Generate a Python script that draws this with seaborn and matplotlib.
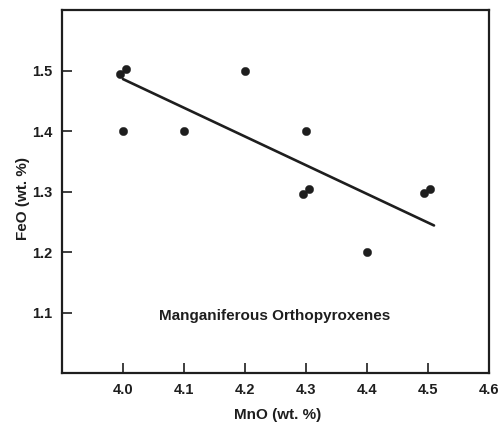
import numpy as np
import pandas as pd
import matplotlib
matplotlib.use("Agg")
import matplotlib.pyplot as plt
import seaborn as sns

# Données
mno = [3.995, 4.005, 4.0, 4.1, 4.2, 4.3, 4.295, 4.305, 4.4, 4.493, 4.503]
feo = [1.495, 1.503, 1.4, 1.4, 1.5, 1.4, 1.296, 1.305, 1.2, 1.297, 1.305]

# droite de tendance (extrémités)
fit_mno = [4.0, 4.51]
fit_feo = [1.486, 1.244]

x_ticks = [4.0, 4.1, 4.2, 4.3, 4.4, 4.5, 4.6]
y_ticks = [1.1, 1.2, 1.3, 1.4, 1.5]

df = pd.DataFrame({"MnO": mno, "FeO": feo})
df_fit = pd.DataFrame({"MnO": fit_mno, "FeO": fit_feo})

sns.set_style("white")
plt.rcParams['font.family'] = ['Liberation Sans', 'DejaVu Sans']

ink = "#1e1e1e"

fig = plt.figure(figsize=(5.04, 4.22), dpi=100)
ax = fig.add_axes([0.123, 0.116, 0.847, 0.86])

sns.lineplot(data=df_fit, x="MnO", y="FeO", color=ink, linewidth=1.9, ax=ax)
sns.scatterplot(data=df, x="MnO", y="FeO", color=ink, s=36, edgecolor=ink,
                linewidth=0.3, ax=ax, zorder=3)

ax.text(4.249, 1.095, "Manganiferous Orthopyroxenes", ha="center", va="center",
        fontsize=11, color=ink, fontweight="bold")

ax.set_xlim(3.9, 4.6)
ax.set_ylim(1.0, 1.6)
ax.set_xticks(x_ticks)
ax.set_yticks(y_ticks)
ax.set_xticklabels([f"{v:.1f}" for v in x_ticks], fontweight="bold")
ax.set_yticklabels([f"{v:.1f}" for v in y_ticks], fontweight="bold")
ax.tick_params(bottom=True, left=True, direction="in", length=7, width=1.2,
               color=ink, labelcolor=ink, labelsize=10.5, pad=7)

for sp in ax.spines.values():
    sp.set_visible(True)
    sp.set_linewidth(1.6)
    sp.set_color(ink)

ax.set_xlabel("MnO (wt. %)", fontsize=11, color=ink, fontweight="bold")
ax.set_ylabel("FeO (wt. %)", fontsize=11, color=ink, fontweight="bold")
ax.xaxis.set_label_coords(0.505, -0.097)
ax.yaxis.set_label_coords(-0.075, 0.48)

fig.savefig("out.png", dpi=100)
